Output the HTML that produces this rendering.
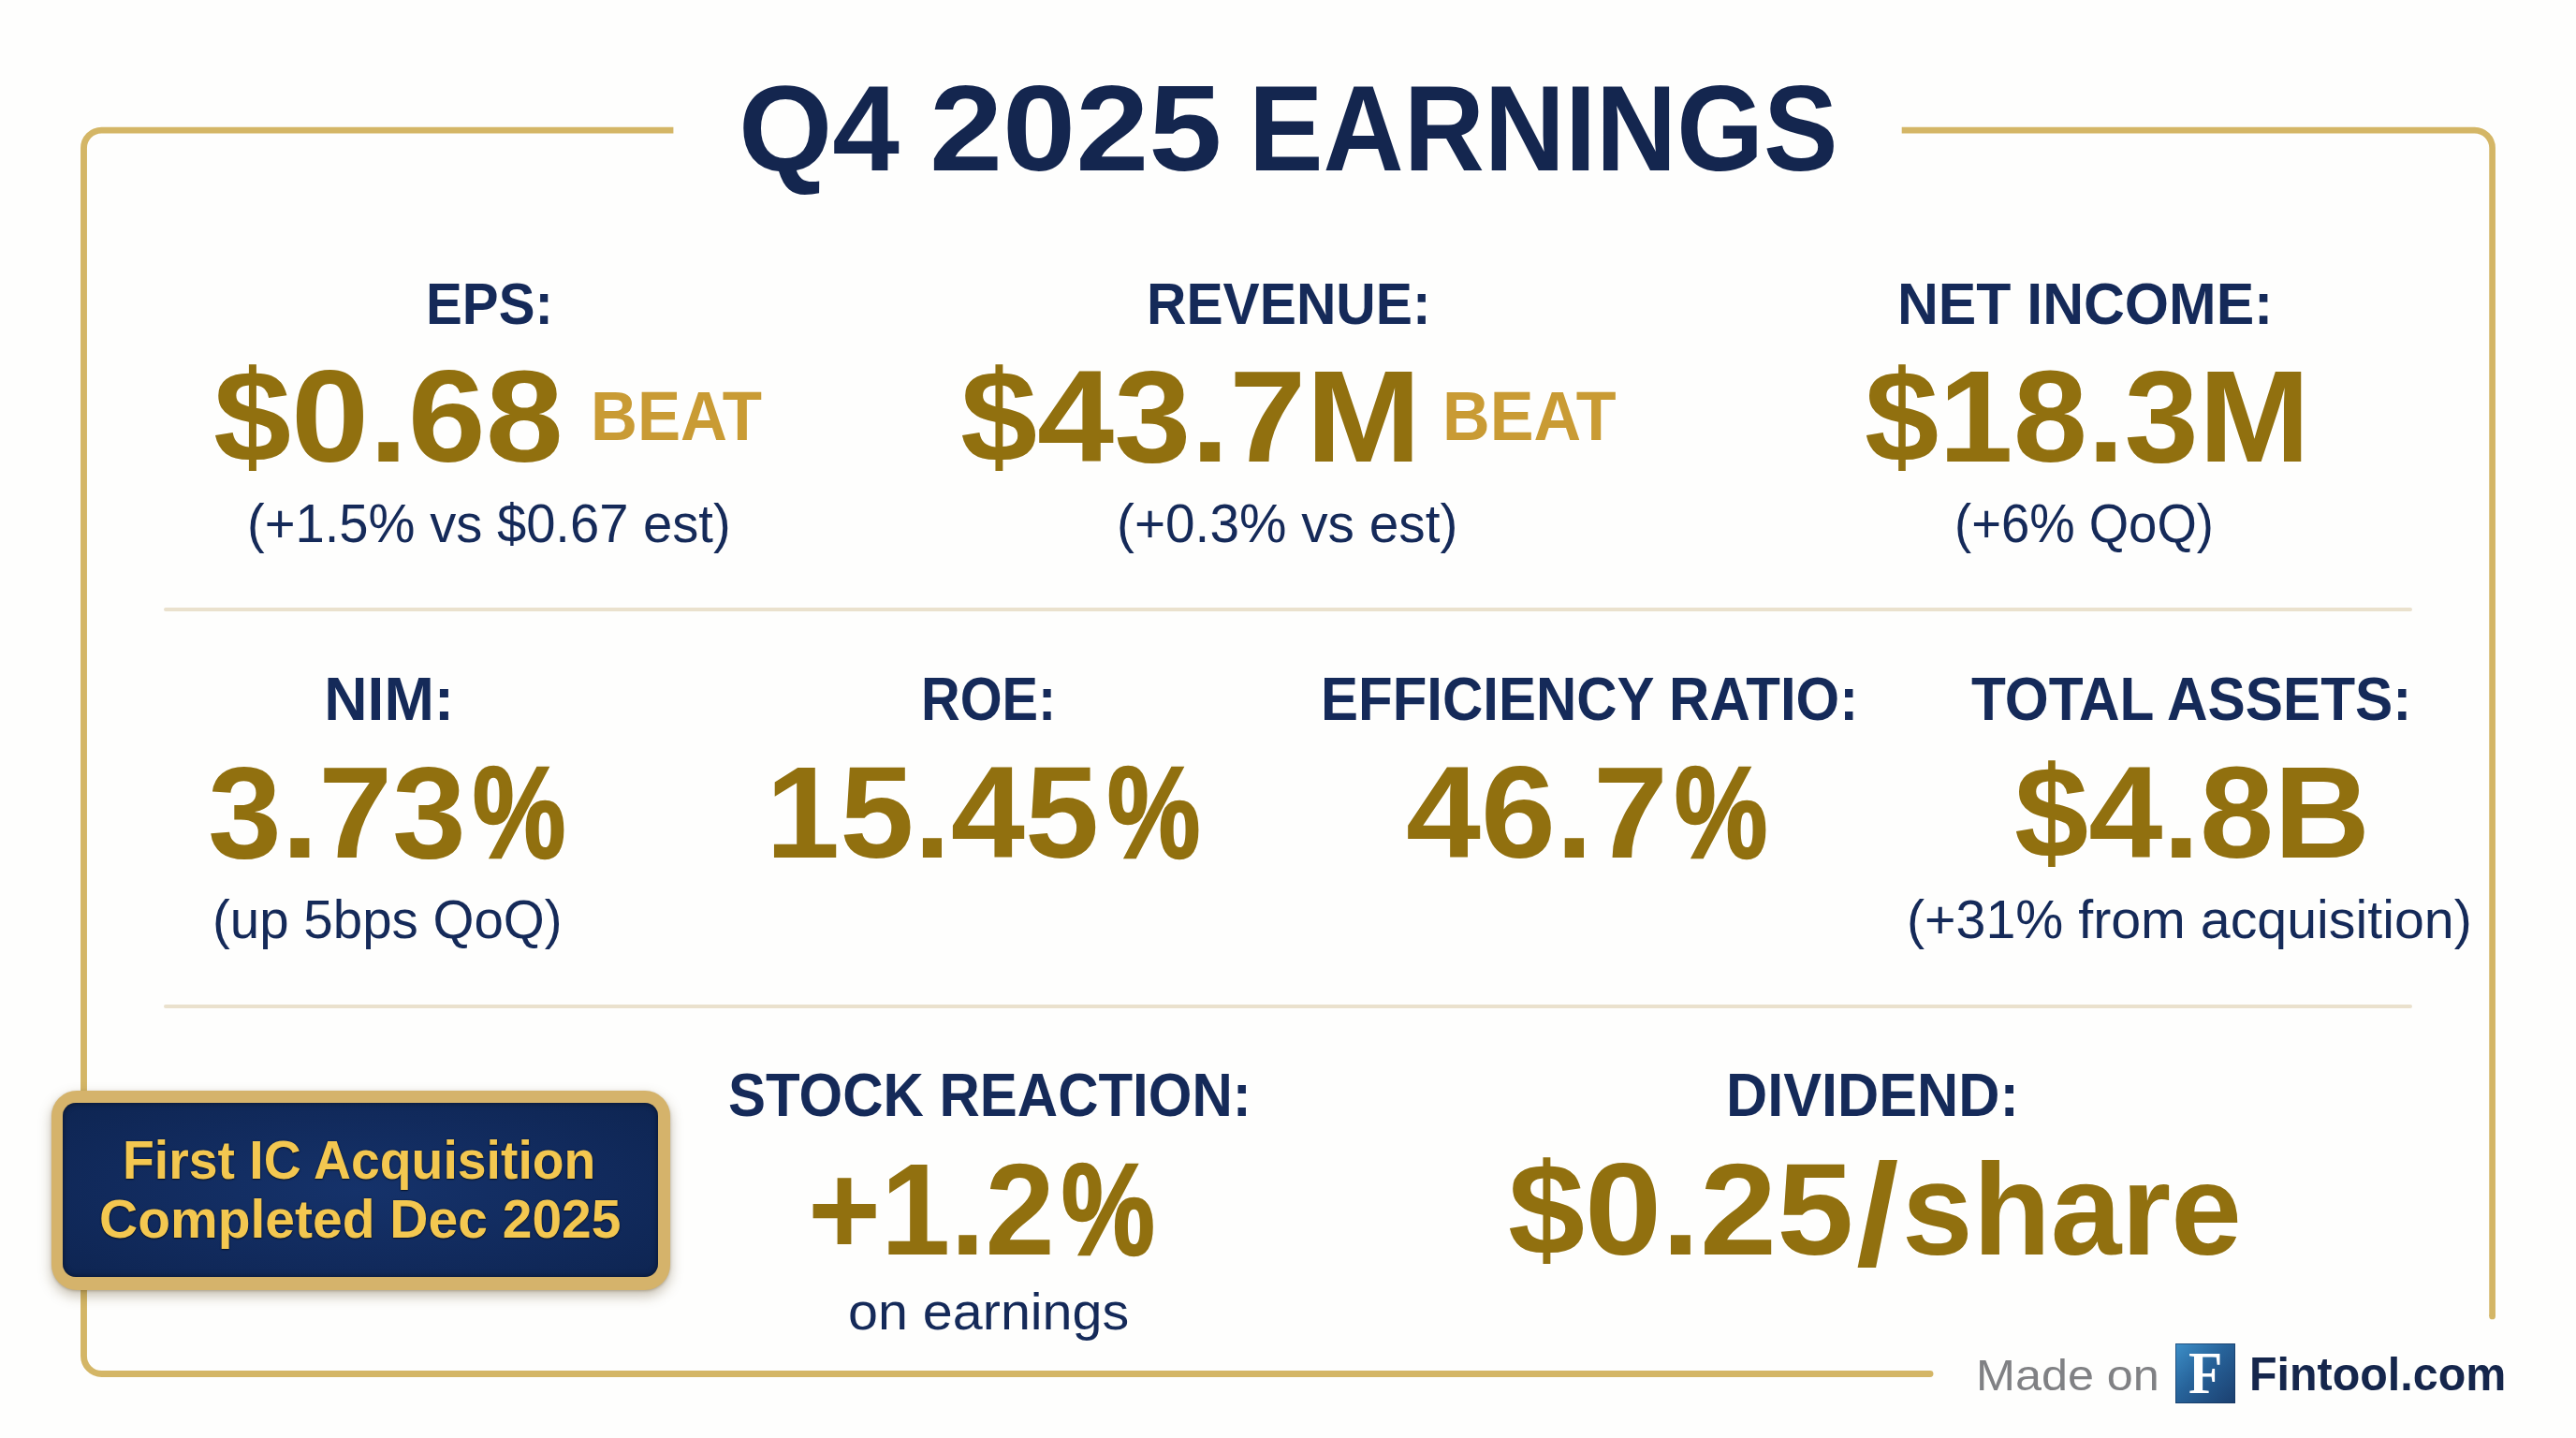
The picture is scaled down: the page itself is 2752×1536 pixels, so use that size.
<!DOCTYPE html>
<html lang="en">
<head>
<meta charset="utf-8">
<title>Q4 2025 Earnings</title>
<style>
html,body{margin:0;padding:0;}
body{width:2752px;height:1536px;position:relative;overflow:hidden;background:#fefefd;font-family:"Liberation Sans",sans-serif;}
.t{position:absolute;white-space:nowrap;line-height:1;transform-origin:0 0;font-weight:400;}
.b{font-weight:700;}
.n{color:#152a59;}
.g{color:#91700f;}
.g2{color:#c99b34;}
.bt{color:#f3c750;text-shadow:0 1px 1.5px rgba(0,0,0,.55),0 0 2px rgba(5,15,40,.6);}
.fr{position:absolute;left:0;top:0;}
.div{position:absolute;left:175px;width:2401.6px;height:4px;background:#eae1cd;border-radius:2px;}
.badge{position:absolute;left:54.8px;top:1164.5px;width:661.5px;height:213.4px;border-radius:27px;background:#d5b36b;box-shadow:0 6px 14px rgba(90,70,30,.35),0 1px 3px rgba(90,70,30,.3);}
.badge-in{position:absolute;left:12.5px;top:13px;right:13.4px;bottom:14px;border-radius:14px;background:radial-gradient(ellipse at 50% 50%,#15326a 0%,#112a5c 60%,#0e2552 100%);box-shadow:inset 0 0 6px rgba(0,0,0,.5);}
.logo{position:absolute;left:2323.5px;top:1435px;width:64px;height:64px;background:linear-gradient(135deg,#3d8fc8 0%,#27639a 45%,#1b3f6f 100%);box-shadow:inset 0 0 0 1px rgba(20,50,90,.6);}
.sf{font-family:"Liberation Serif",serif;}
.tt{color:#14264f;}
.pc{-webkit-text-stroke:2.6px currentColor;}
.p{display:inline-block;width:0;position:relative;white-space:pre;line-height:0;transform-origin:0 0;}
</style>
</head>
<body>
<svg class="fr" width="2752" height="1536" viewBox="0 0 2752 1536">
<path d="M719.4 139.1 H108.5 A19 19 0 0 0 89.5 158.1 V1448.5 A19 19 0 0 0 108.5 1467.5 H2062" fill="none" stroke="#d4b666" stroke-width="6.9" stroke-linecap="butt"/>
<path d="M2031.7 139.1 H2643.6 A19 19 0 0 1 2662.6 158.1 V1406" fill="none" stroke="#d4b666" stroke-width="6.7" stroke-linecap="butt"/>
<circle cx="2062" cy="1467.5" r="3.45" fill="#d4b666"/>
<circle cx="2662.6" cy="1406" r="3.35" fill="#d4b666"/>
</svg>
<div class="div" style="top:648.8px;"></div>
<div class="div" style="top:1072.6px;"></div>
<div class="badge"><div class="badge-in"></div></div>
<div class="logo"></div>
<div id="title" class="t tt b" style="left:789.03px;top:73.35px;font-size:129.65px;"><span id="title_a" class="p m" style="left:0.00px;transform:scaleX(0.9940);">Q4 </span><span id="title_b" class="p m" style="left:204.09px;transform:scaleX(1.0836);">2025 </span><span id="title_c" class="p m" style="left:545.15px;transform:scaleX(0.9201);">EARNINGS</span></div>
<div id="l_eps" class="t n b m" style="left:455.30px;top:291.61px;font-size:63.66px;transform:scaleX(0.9145);">EPS:</div>
<div id="l_rev" class="t n b m" style="left:1224.97px;top:291.61px;font-size:63.66px;transform:scaleX(0.9226);">REVENUE:</div>
<div id="l_ni" class="t n b m" style="left:2026.82px;top:291.61px;font-size:63.66px;transform:scaleX(0.9537);">NET INCOME:</div>
<div id="v_eps" class="t g b m" style="left:227.56px;top:374.51px;font-size:139.97px;transform:scaleX(1.0674);">$0.68</div>
<div id="v_rev" class="t g b m" style="left:1025.72px;top:374.51px;font-size:139.97px;transform:scaleX(1.0544);">$43.7M</div>
<div id="v_ni" class="t g b m" style="left:1991.57px;top:374.51px;font-size:139.97px;transform:scaleX(1.0189);">$18.3M</div>
<div id="b_eps" class="t g2 b m" style="left:631.24px;top:408.00px;font-size:74.42px;transform:scaleX(0.9288);">BEAT</div>
<div id="b_rev" class="t g2 b m" style="left:1540.70px;top:408.00px;font-size:74.42px;transform:scaleX(0.9424);">BEAT</div>
<div id="s_eps" class="t n m" style="left:264.22px;top:529.86px;font-size:58.29px;transform:scaleX(0.9637);">(+1.5% vs $0.67 est)</div>
<div id="s_rev" class="t n m" style="left:1193.00px;top:529.86px;font-size:58.29px;transform:scaleX(0.9738);">(+0.3% vs est)</div>
<div id="s_ni" class="t n m" style="left:2087.61px;top:529.86px;font-size:58.29px;transform:scaleX(0.9343);">(+6% QoQ)</div>
<div id="l_nim" class="t n b m" style="left:346.30px;top:714.94px;font-size:64.10px;transform:scaleX(1.0000);">NIM:</div>
<div id="l_roe" class="t n b m" style="left:984.40px;top:714.94px;font-size:64.10px;transform:scaleX(0.9000);">ROE:</div>
<div id="l_eff" class="t n b m" style="left:1410.67px;top:714.94px;font-size:64.10px;transform:scaleX(0.9357);">EFFICIENCY RATIO:</div>
<div id="l_ta" class="t n b m" style="left:2106.12px;top:714.94px;font-size:64.10px;transform:scaleX(0.9412);">TOTAL ASSETS:</div>
<div id="g_nim" class="t g b" style="left:222.25px;top:798.83px;font-size:139.25px;"><span id="v_nim" class="p m" style="left:0.00px;transform:scaleX(1.0183);">3.73</span><span id="v_nim_p" class="p m pc" style="left:282.70px;transform:scaleX(0.8018);">%</span></div>
<div id="g_roe" class="t g b" style="left:817.80px;top:798.83px;font-size:139.25px;"><span id="v_roe" class="p m" style="left:0.00px;transform:scaleX(1.0220);">15.45</span><span id="v_roe_p" class="p m pc" style="left:365.03px;transform:scaleX(0.8017);">%</span></div>
<div id="g_eff" class="t g b" style="left:1501.93px;top:798.83px;font-size:139.25px;"><span id="v_eff" class="p m" style="left:0.00px;transform:scaleX(1.0327);">46.7</span><span id="v_eff_p" class="p m pc" style="left:286.78px;transform:scaleX(0.8017);">%</span></div>
<div id="v_ta" class="t g b m" style="left:2151.86px;top:798.83px;font-size:139.25px;transform:scaleX(1.0226);">$4.8B</div>
<div id="s_nim" class="t n m" style="left:226.87px;top:954.25px;font-size:57.70px;transform:scaleX(0.9792);">(up 5bps QoQ)</div>
<div id="s_ta" class="t n m" style="left:2037.22px;top:954.25px;font-size:57.70px;transform:scaleX(0.9937);">(+31% from acquisition)</div>
<div id="l_stock" class="t n b m" style="left:777.83px;top:1138.24px;font-size:64.10px;transform:scaleX(0.9358);">STOCK REACTION:</div>
<div id="l_div" class="t n b m" style="left:1844.29px;top:1138.24px;font-size:64.10px;transform:scaleX(0.9552);">DIVIDEND:</div>
<div id="g_stock" class="t g b" style="left:862.68px;top:1222.24px;font-size:139.83px;"><span id="v_stock" class="p m" style="left:0.00px;transform:scaleX(0.9553);">+1.2</span><span id="v_stock_p" class="p m pc" style="left:271.32px;transform:scaleX(0.8017);">%</span></div>
<div id="g_div" class="t g b" style="left:1610.58px;top:1222.24px;font-size:139.83px;"><span id="v_div" class="p m" style="left:0.00px;transform:scaleX(1.0552);">$0.25</span><span id="v_div_s" class="p m" style="left:372.70px;transform:scaleX(1.0705);font-size:153.19px;top:11.20px;">/</span><span id="v_div_w" class="p m" style="left:421.07px;transform:scaleX(0.9725);">share</span></div>
<div id="s_stock" class="t n m" style="left:905.61px;top:1373.67px;font-size:55.08px;transform:scaleX(1.0430);">on earnings</div>
<div id="bd1" class="t bt b m" style="left:131.30px;top:1210.41px;font-size:58.00px;transform:scaleX(0.9544);">First IC Acquisition</div>
<div id="bd2" class="t bt b m" style="left:106.09px;top:1275.19px;font-size:56.83px;transform:scaleX(1.0029);">Completed Dec 2025</div>
<div id="made" class="t m" style="left:2111.09px;top:1446.06px;font-size:46.95px;transform:scaleX(1.0720);color:#808184;">Made on</div>
<div id="fin" class="t b m" style="left:2403.30px;top:1443.80px;font-size:49.86px;transform:scaleX(0.9710);color:#15264c;">Fintool.com</div>
<div id="logoF" class="t b sf m" style="left:2338.07px;top:1434.96px;font-size:63.69px;transform:scaleX(0.9315);color:#ffffff;">F</div>
</body>
</html>
